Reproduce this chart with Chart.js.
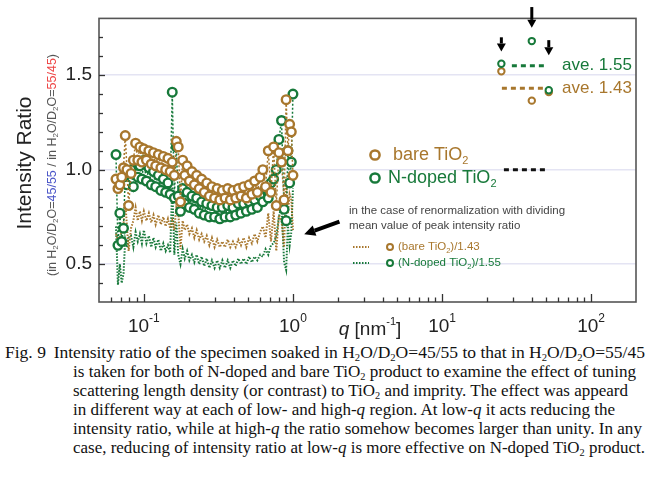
<!DOCTYPE html>
<html>
<head>
<meta charset="utf-8">
<script src="https://cdn.jsdelivr.net/npm/chart.js@4.4.1/dist/chart.umd.min.js"></script>
<style>
  body { margin: 0; background: #fff; }
  #wrap { position: relative; width: 651px; height: 484px; overflow: hidden; }
  #chart { position: absolute; left: 0; top: 0; }
  .cap { position: absolute; left: 0; top: 343px; font-family: "Liberation Serif", "Times New Roman", serif;
         font-size: 17.3px; line-height: 19.1px; color: #111; white-space: nowrap; }
  .cap div { height: 19.1px; }
  .cap span.ln { display: inline-block; transform-origin: 0 50%; }
  .cap sub { font-size: 10.5px; vertical-align: -3px; line-height: 0; }
</style>
</head>
<body>
<div id="wrap">
  <canvas id="chart" width="651" height="340"></canvas>
  <div class="cap">
    <div><span class="ln" data-l="5" data-r="645"><span style="display:inline-block;width:48px">Fig. 9</span>Intensity ratio of the specimen soaked in H<sub>2</sub>O/D<sub>2</sub>O=45/55 to that in H<sub>2</sub>O/D<sub>2</sub>O=55/45</span></div>
    <div><span class="ln" data-l="73" data-r="636">is taken for both of N-doped and bare TiO<sub>2</sub> product to examine the effect of tuning</span></div>
    <div><span class="ln" data-l="73" data-r="628">scattering length density (or contrast) to TiO<sub>2</sub> and imprity. The effect was appeard</span></div>
    <div><span class="ln" data-l="73" data-r="615">in different way at each of low- and high-<i>q</i> region. At low-<i>q</i> it acts reducing the</span></div>
    <div><span class="ln" data-l="73" data-r="642">intensity ratio, while at high-<i>q</i> the ratio somehow becomes larger than unity. In any</span></div>
    <div><span class="ln" data-l="73" data-r="645">case, reducing of intensity ratio at low-<i>q</i> is more effective on N-doped TiO<sub>2</sub> product.</span></div>
  </div>
</div>
<script>
// q [nm^-1] of each measured point
const qValues = [
  0.065, 0.067, 0.069, 0.071, 0.073, 0.075, 0.077, 0.079, 0.082, 0.085,
  0.088, 0.091, 0.094, 0.097, 0.100, 0.104, 0.108, 0.112, 0.116, 0.120,
  0.125, 0.130, 0.135, 0.140, 0.145, 0.150, 0.155, 0.160, 0.165, 0.170,
  0.176, 0.182, 0.188, 0.195, 0.202, 0.210, 0.218, 0.226, 0.235, 0.244,
  0.254, 0.264, 0.275, 0.286, 0.298, 0.310, 0.323, 0.336, 0.350, 0.365,
  0.380, 0.396, 0.413, 0.430, 0.448, 0.467, 0.487, 0.508, 0.530, 0.553,
  0.577, 0.602, 0.628, 0.655, 0.683, 0.712, 0.742, 0.773, 0.805, 0.838,
  0.872, 0.900, 0.925, 0.950, 0.975, 1.000
];
const bareTiO2 = [
  0.95, 0.90, 0.92, 0.96, 1.01, 1.18, 1.00, 0.81, 0.98, 1.05,
  1.14, 1.05, 1.12, 1.04, 1.11, 1.05, 1.10, 1.03, 1.09, 1.02,
  1.08, 1.01, 1.07, 1.00, 1.06, 0.99, 1.04, 0.97, 1.15, 1.12,
  0.83, 1.05, 0.97, 1.02, 0.94, 0.99, 0.92, 0.97, 0.90, 0.95,
  0.88, 0.93, 0.86, 0.91, 0.85, 0.90, 0.84, 0.89, 0.85, 0.90,
  0.84, 0.89, 0.85, 0.90, 0.86, 0.91, 0.85, 0.92, 0.87, 0.94,
  0.88, 0.96, 1.00, 0.91, 1.10, 0.88, 1.12, 0.81, 1.09, 1.04,
  0.84, 1.37, 1.10, 1.24, 1.20, 0.97
];
const nDopedTiO2 = [
  1.08, 0.60, 0.77, 0.62, 0.69, 0.97, 0.92, 0.99, 1.00, 0.91,
  1.04, 0.96, 1.02, 0.95, 1.05, 0.94, 1.01, 0.92, 0.99, 0.91,
  0.97, 0.89, 0.95, 0.88, 0.93, 0.87, 1.41, 0.85, 1.12, 0.86,
  0.78, 0.90, 0.82, 0.88, 0.80, 0.86, 0.79, 0.85, 0.77, 0.83,
  0.76, 0.82, 0.75, 0.81, 0.75, 0.80, 0.74, 0.80, 0.75, 0.81,
  0.75, 0.80, 0.76, 0.82, 0.77, 0.82, 0.78, 0.83, 0.79, 0.84,
  0.80, 0.86, 0.83, 0.90, 0.85, 0.93, 0.95, 1.00, 1.16, 1.26,
  0.79, 0.73, 1.10, 0.93, 1.04, 1.40
];
// renormalized curves
const bareRenorm = [
  0.66, 0.63, 0.64, 0.67, 0.71, 0.83, 0.70, 0.57, 0.69, 0.73,
  0.80, 0.73, 0.78, 0.73, 0.78, 0.73, 0.77, 0.72, 0.76, 0.71,
  0.76, 0.71, 0.75, 0.70, 0.74, 0.69, 0.73, 0.68, 0.80, 0.78,
  0.58, 0.73, 0.68, 0.71, 0.66, 0.69, 0.64, 0.68, 0.63, 0.66,
  0.62, 0.65, 0.60, 0.64, 0.59, 0.63, 0.59, 0.62, 0.59, 0.63,
  0.59, 0.62, 0.59, 0.63, 0.60, 0.64, 0.59, 0.64, 0.61, 0.66,
  0.62, 0.67, 0.70, 0.64, 0.77, 0.62, 0.78, 0.57, 0.76, 0.73,
  0.59, 0.96, 0.77, 0.87, 0.84, 0.68
];
const nDopedRenorm = [
  0.70, 0.39, 0.50, 0.40, 0.45, 0.63, 0.59, 0.64, 0.65, 0.59,
  0.67, 0.62, 0.66, 0.61, 0.68, 0.61, 0.65, 0.59, 0.64, 0.59,
  0.63, 0.57, 0.61, 0.57, 0.60, 0.56, 0.91, 0.55, 0.72, 0.55,
  0.50, 0.58, 0.53, 0.57, 0.52, 0.55, 0.51, 0.55, 0.50, 0.54,
  0.49, 0.53, 0.48, 0.52, 0.48, 0.52, 0.48, 0.52, 0.48, 0.52,
  0.48, 0.52, 0.49, 0.53, 0.50, 0.53, 0.50, 0.54, 0.51, 0.54,
  0.52, 0.55, 0.54, 0.58, 0.55, 0.60, 0.61, 0.65, 0.75, 0.81,
  0.51, 0.47, 0.71, 0.60, 0.67, 0.90
];
// peak intensity ratios at high q
const peakQ = [25, 40, 52];
const peakBare = [1.52, 1.365, 1.41];
const peakNdoped = [1.56, 1.68, 1.42];
// average levels
const aveBareQ = [25.2, 48];
const aveBare = [1.43, 1.43];
const aveNdopedQ = [29.4, 50.4];
const aveNdoped = [1.55, 1.55];
const unityQ = [26, 52];
const unity = [1.0, 1.0];
// ticks
const yLabelTicks = [0.5, 1.0, 1.5];
const xMajorTicks = [0.1, 1, 10, 100];
const xTickLabels = [["10", "-1"], ["10", "0"], ["10", "1"], ["10", "2"]];

const BROWN = "#a8772d";
const GREEN = "#17793a";
const SANS = '"Liberation Sans", Arial, sans-serif';

// fit caption lines to the original line extents
document.querySelectorAll(".cap span.ln").forEach((el) => {
  const l = +el.dataset.l, r = +el.dataset.r;
  const w = el.getBoundingClientRect().width;
  el.style.marginLeft = l + "px";
  el.style.transform = "scaleX(" + ((r - l) / w).toFixed(4) + ")";
});

const toXY = (xs, ys) => xs.map((x, i) => ({ x, y: ys[i] }));

function drawRich(ctx, parts, x, y, align) {
  let w = 0;
  parts.forEach((p) => { ctx.font = p[1]; w += ctx.measureText(p[0]).width; });
  let cx = align === "center" ? x - w / 2 : align === "right" ? x - w : x;
  ctx.textAlign = "left";
  parts.forEach((p) => {
    ctx.font = p[1];
    ctx.fillStyle = p[2];
    ctx.fillText(p[0], cx, y + (p[3] || 0));
    cx += ctx.measureText(p[0]).width;
  });
}

function arrow(ctx, x1, y1, x2, y2, lw, headLen, headW) {
  const ang = Math.atan2(y2 - y1, x2 - x1);
  const bx = x2 - Math.cos(ang) * headLen, by = y2 - Math.sin(ang) * headLen;
  ctx.strokeStyle = "#000";
  ctx.fillStyle = "#000";
  ctx.lineWidth = lw;
  ctx.setLineDash([]);
  ctx.beginPath(); ctx.moveTo(x1, y1); ctx.lineTo(bx, by); ctx.stroke();
  ctx.beginPath();
  ctx.moveTo(x2, y2);
  ctx.lineTo(bx + Math.sin(ang) * headW / 2, by - Math.cos(ang) * headW / 2);
  ctx.lineTo(bx - Math.sin(ang) * headW / 2, by + Math.cos(ang) * headW / 2);
  ctx.closePath(); ctx.fill();
}

function ring(ctx, x, y, r, color, lw) {
  ctx.setLineDash([]);
  ctx.beginPath(); ctx.arc(x, y, r, 0, Math.PI * 2);
  ctx.fillStyle = "#fff"; ctx.fill();
  ctx.strokeStyle = color; ctx.lineWidth = lw; ctx.stroke();
}

const decorations = {
  id: "decorations",
  afterDraw(chart) {
    const ctx = chart.ctx;
    const a = chart.chartArea;
    const xs = chart.scales.x, ys = chart.scales.y;
    ctx.save();

    // frame
    ctx.strokeStyle = "#555";
    ctx.lineWidth = 1.6;
    ctx.strokeRect(a.left, a.top, a.right - a.left, a.bottom - a.top);

    // inward ticks
    ctx.strokeStyle = "#333";
    ctx.lineWidth = 1.3;
    for (let d = 0.01; d < 1000; d *= 10) {
      for (let k = 1; k <= 9; k++) {
        const v = k * d;
        if (v <= 0.0501 || v >= 199) continue;
        const px = Math.round(xs.getPixelForValue(v)) + 0.5;
        const len = k === 1 ? 8 : 4.5;
        ctx.beginPath(); ctx.moveTo(px, a.bottom); ctx.lineTo(px, a.bottom - len); ctx.stroke();
      }
    }
    for (let i = 4; i <= 17; i++) {
      const v = i / 10;
      const py = Math.round(ys.getPixelForValue(v)) + 0.5;
      const len = i % 5 === 0 ? 6 : 4;
      ctx.beginPath(); ctx.moveTo(a.left, py); ctx.lineTo(a.left + len, py); ctx.stroke();
    }

    // x tick labels with superscripts
    ctx.textBaseline = "alphabetic";
    xMajorTicks.forEach((v, i) => {
      const px = xs.getPixelForValue(v);
      drawRich(ctx, [[xTickLabels[i][0], "19px " + SANS, "#222", 0],
                     [xTickLabels[i][1], "12px " + SANS, "#222", -10]], px, 332, "center");
    });
    drawRich(ctx, [["q", "italic 19px " + SANS, "#222", 0], [" [nm", "19px " + SANS, "#222", 0],
                   ["-1", "11px " + SANS, "#222", -10], ["]", "19px " + SANS, "#222", 0]], 370, 335, "center");

    // y axis titles
    ctx.save();
    ctx.translate(25, 163);
    ctx.rotate(-Math.PI / 2);
    ctx.textBaseline = "middle";
    drawRich(ctx, [["Intensity Ratio", "21px " + SANS, "#222", 0]], 0, 0, "center");
    ctx.restore();

    ctx.save();
    ctx.translate(53, 165);
    ctx.rotate(-Math.PI / 2);
    ctx.textBaseline = "middle";
    const f = "12.5px " + SANS, fs = "8px " + SANS, g = "#555";
    drawRich(ctx, [["(in H", f, g], ["2", fs, g, 3], ["O/D", f, g], ["2", fs, g, 3], ["O=", f, g],
                   ["45/55", f, "#4a55c8"], [" / in H", f, g], ["2", fs, g, 3], ["O/D", f, g], ["2", fs, g, 3],
                   ["O=", f, g], ["55/45", f, "#ee4444"], [")", f, g]], 0, 0, "center");
    ctx.restore();

    // main legend
    ctx.textBaseline = "middle";
    ring(ctx, 375, 155, 4.6, BROWN, 2.5);
    drawRich(ctx, [["bare TiO", "18px " + SANS, BROWN], ["2", "11px " + SANS, BROWN, 6]], 393, 155, "left");
    ring(ctx, 375, 178, 4.6, GREEN, 2.5);
    drawRich(ctx, [["N-doped TiO", "18px " + SANS, GREEN], ["2", "11px " + SANS, GREEN, 6]], 388, 178, "left");

    // renormalization note
    drawRich(ctx, [["in the case of renormalization with dividing", "11.5px " + SANS, "#444"]], 349, 211, "left");
    drawRich(ctx, [["mean value of peak intensity ratio", "11.5px " + SANS, "#444"]], 349, 226, "left");
    [[BROWN, 247, "(bare TiO", ")/1.43"], [GREEN, 263, "(N-doped TiO", ")/1.55"]].forEach((r) => {
      ctx.strokeStyle = r[0]; ctx.lineWidth = 2; ctx.setLineDash([1.5, 1.5]);
      ctx.beginPath(); ctx.moveTo(353, r[1]); ctx.lineTo(369, r[1]); ctx.stroke();
      ctx.setLineDash([]);
      ring(ctx, 390, r[1], 3, r[0], 2);
      drawRich(ctx, [[r[2], "11.5px " + SANS, r[0]], ["2", "7.5px " + SANS, r[0], 4], [r[3], "11.5px " + SANS, r[0]]], 398, r[1], "left");
    });

    // average labels
    drawRich(ctx, [["ave. 1.55", "17px " + SANS, GREEN]], 562, ys.getPixelForValue(1.55), "left");
    drawRich(ctx, [["ave. 1.43", "17px " + SANS, BROWN]], 562, ys.getPixelForValue(1.43), "left");

    // arrows
    [[25, 1.70, 1.625], [40, 1.86, 1.75], [52, 1.685, 1.605]].forEach((r) => {
      const px = xs.getPixelForValue(r[0]);
      arrow(ctx, px, ys.getPixelForValue(r[1]), px, ys.getPixelForValue(r[2]), 3, 8, 9);
    });
    arrow(ctx, xs.getPixelForValue(2.05), ys.getPixelForValue(0.725),
          xs.getPixelForValue(1.19), ys.getPixelForValue(0.658), 4, 11, 11);

    ctx.restore();
  }
};

const circleSeries = (label, data, color, order) => ({
  label, data, order, showLine: true,
  borderColor: color, borderWidth: 1.5, borderDash: [2, 2],
  pointRadius: 4.3, pointBorderWidth: 2.4, pointBackgroundColor: "#fff", pointBorderColor: color
});
const dottedLine = (label, data, color, order) => ({
  label, data, order, showLine: true, pointRadius: 0,
  borderColor: color, borderWidth: 2, borderDash: [1.5, 1.5]
});
const aveLine = (label, data, color) => ({
  label, data, order: 0, showLine: true, pointRadius: 0,
  borderColor: color, borderWidth: 3, borderDash: [5, 4]
});
const peakSeries = (label, data, color, order) => ({
  label, data, order, showLine: false,
  pointRadius: 3.2, pointBorderWidth: 2, pointBackgroundColor: "#fff", pointBorderColor: color
});

new Chart(document.getElementById("chart"), {
  type: "scatter",
  data: {
    datasets: [
      peakSeries("N-doped peaks", toXY(peakQ, peakNdoped), GREEN, -2),
      peakSeries("bare peaks", toXY(peakQ, peakBare), BROWN, -1),
      aveLine("ave N-doped", toXY(aveNdopedQ, aveNdoped), GREEN),
      aveLine("ave bare", toXY(aveBareQ, aveBare), BROWN),
      aveLine("unity", toXY(unityQ, unity), "#111"),
      circleSeries("bare TiO2", toXY(qValues, bareTiO2), BROWN, 1),
      circleSeries("N-doped TiO2", toXY(qValues, nDopedTiO2), GREEN, 2),
      dottedLine("(bare TiO2)/1.43", toXY(qValues, bareRenorm), BROWN, 3),
      dottedLine("(N-doped TiO2)/1.55", toXY(qValues, nDopedRenorm), GREEN, 4)
    ]
  },
  options: {
    responsive: false,
    animation: false,
    layout: { padding: { left: 0, right: 15, top: 13, bottom: 0 } },
    plugins: { legend: { display: false }, tooltip: { enabled: false } },
    scales: {
      x: {
        type: "logarithmic", min: 0.05, max: 200,
        grid: { display: false },
        border: { display: false },
        ticks: { display: false },
        afterFit: (s) => { s.height = 38; }
      },
      y: {
        min: 0.3, max: 1.8,
        border: { display: false },
        grid: {
          drawTicks: false,
          lineWidth: 1.5,
          color: (c) => yLabelTicks.some((t) => Math.abs(t - c.tick.value) < 1e-6) ? "#e4e4f3" : "rgba(0,0,0,0)"
        },
        ticks: {
          stepSize: 0.1, autoSkip: false, padding: 7, color: "#222",
          font: { family: "Liberation Sans", size: 19 },
          callback: (v) => yLabelTicks.some((t) => Math.abs(t - v) < 1e-6) ? v.toFixed(1) : ""
        },
        afterFit: (s) => { s.width = 99; }
      }
    }
  },
  plugins: [decorations]
});
</script>
</body>
</html>
